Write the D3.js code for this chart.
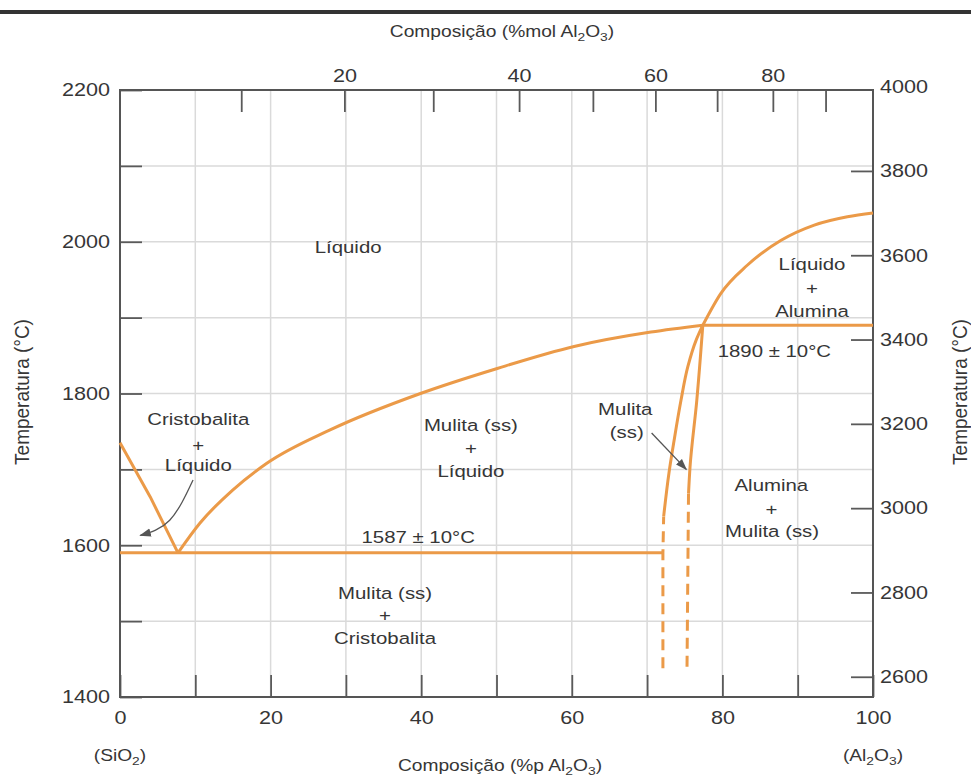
<!DOCTYPE html>
<html>
<head>
<meta charset="utf-8">
<script src="https://cdn.jsdelivr.net/npm/d3@7"></script>
<style>
  body { margin: 0; background: #fff; }
  svg text { font-family: "Liberation Sans", Arial, sans-serif; fill: #363636; }
</style>
</head>
<body>
<svg id="chart" width="971" height="778"></svg>
<script>
// phase boundaries, [wt% Al2O3, temperature °C]
var cristobaliteLiquidus = [[0, 1735], [4, 1664], [7.7, 1590]];
var mulliteLiquidus = [[7.7, 1590], [10.6, 1629], [15, 1673], [19.5, 1708], [27.9, 1752],
    [39.9, 1800], [50.1, 1833], [60.3, 1862], [70.5, 1881], [77.4, 1890]];
var aluminaLiquidus = [[77.4, 1890], [79.8, 1932], [83.3, 1969], [87.8, 2002],
    [92.2, 2022], [96.6, 2033], [100, 2038]];
var eutecticLine = [[0, 1590], [72.1, 1590]];
var peritecticLine = [[77.4, 1890], [100, 1890]];
var mulliteLeftSolid = [[72.2, 1638], [72.9, 1695], [73.6, 1739], [74.5, 1791],
    [75.4, 1835], [76.5, 1870], [77.4, 1890]];
var mulliteLeftDashed = [[72.1, 1438], [72.1, 1590], [72.2, 1638]];
var mulliteRightSolid = [[77.4, 1890], [76.6, 1791], [75.7, 1703], [75.5, 1668]];
var mulliteRightDashed = [[75.5, 1668], [75.3, 1438]];

// axes
var wtTicks = d3.range(0, 101, 10);
var tempTicks = d3.range(1400, 2201, 100);
var tempFTicks = [2600, 2800, 3000, 3200, 3400, 3600, 3800, 4000];
var molTicks = [10, 20, 30, 40, 50, 60, 70, 80, 90];
var molTickWt = [16.1, 29.8, 41.6, 53.0, 62.8, 71.1, 79.3, 86.7, 93.7];

// region labels, anchored at [wt%, °C]
var regionLabels = [
    ["Líquido", 30.3, 1985],
    ["Cristobalita", 10.4, 1758], ["+", 10.4, 1724], ["Líquido", 10.4, 1698],
    ["Mulita (ss)", 46.6, 1750], ["+", 46.6, 1720], ["Líquido", 46.6, 1690],
    ["1587 ± 10°C", 39.6, 1603],
    ["Mulita (ss)", 35.2, 1529], ["+", 35.2, 1500], ["Cristobalita", 35.2, 1470],
    ["Mulita", 67.1, 1772], ["(ss)", 67.3, 1741],
    ["Líquido", 91.9, 1963], ["+", 91.9, 1931], ["Alumina", 91.9, 1901],
    ["1890 ± 10°C", 86.9, 1848],
    ["Alumina", 86.5, 1671], ["+", 86.5, 1640], ["Mulita (ss)", 86.6, 1611]
];
var arrows = [
    [[9.7, 1686], [6.6, 1633], [2.7, 1613]],
    [[70.6, 1748], [75.2, 1700]]
];

var orange = "#eb9a48";
var stretch = 1.2;
var plotLeft = 120, plotRight = 873, plotTop = 90, plotBottom = 697;

var svg = d3.select("#chart");
var x = d3.scaleLinear().domain([0, 100]).range([plotLeft, plotRight]);
var y = d3.scaleLinear().domain([1400, 2200]).range([plotBottom, plotTop]);
var yF = d3.scaleLinear().domain([1400 * 1.8 + 32, 2200 * 1.8 + 32]).range([plotBottom, plotTop]);
var xMol = d3.scaleLinear().domain(molTicks).range(molTickWt.map(function(w) { return x(w); }));

// widen glyphs horizontally about their anchor
function widen(sel, sx) {
    sel.each(function() {
        var t = d3.select(this);
        var ax = +t.attr("x") || 0;
        t.attr("transform", "translate(" + ax * (1 - sx) + ",0) scale(" + sx + ",1)");
    });
}

// text with subscript parts
function richText(g, parts, size) {
    var t = g.append("text").style("font-size", size + "px");
    var shift = 0;
    parts.forEach(function(p) {
        var s = t.append("tspan").text(p[0]);
        if (p[1]) {
            s.attr("dy", 4 - shift).style("font-size", (size * 0.72) + "px");
            shift = 4;
        } else if (shift) {
            s.attr("dy", -shift);
            shift = 0;
        }
    });
    return t;
}

// screenshot frame bar
svg.append("rect").attr("x", 0).attr("y", 10).attr("width", 971).attr("height", 4).attr("fill", "#333");

// grid
svg.append("g").selectAll("line")
    .data(wtTicks.slice(1, -1))
    .join("line")
    .attr("x1", d => x(d)).attr("x2", d => x(d))
    .attr("y1", plotTop).attr("y2", plotBottom)
    .attr("stroke", "#dadada").attr("stroke-width", 1.5);
svg.append("g").selectAll("line")
    .data(tempTicks.slice(1, -1))
    .join("line")
    .attr("x1", plotLeft).attr("x2", plotRight)
    .attr("y1", d => y(d)).attr("y2", d => y(d))
    .attr("stroke", "#dadada").attr("stroke-width", 1.5);

// axes
var axisLeft = svg.append("g").attr("transform", "translate(" + plotLeft + ",0)")
    .call(d3.axisLeft(y).tickValues(tempTicks).tickSize(-22).tickPadding(10)
        .tickFormat(d => d % 200 === 0 ? d : ""));
var axisRight = svg.append("g").attr("transform", "translate(" + plotRight + ",0)")
    .call(d3.axisRight(yF).tickValues(tempFTicks).tickSize(-22).tickPadding(7)
        .tickFormat(d3.format("d")));
var axisBottom = svg.append("g").attr("transform", "translate(0," + plotBottom + ")")
    .call(d3.axisBottom(x).tickValues(wtTicks).tickSize(-22).tickPadding(14)
        .tickFormat(d => d % 20 === 0 ? d : ""));
var axisTop = svg.append("g").attr("transform", "translate(0," + plotTop + ")")
    .call(d3.axisTop(xMol).tickValues(molTicks).tickSize(-22).tickPadding(8)
        .tickFormat(d => d % 20 === 0 ? d : ""));

[axisLeft, axisRight, axisBottom, axisTop].forEach(function(a) {
    a.select(".domain").remove();
    a.selectAll(".tick line").attr("stroke", "#5a5a5a").attr("stroke-width", 1.8);
    a.selectAll(".tick text")
        .style("font-size", "18px")
        .style("font-family", "'Liberation Sans', Arial, sans-serif")
        .attr("fill", "#363636");
    widen(a.selectAll(".tick text"), stretch);
});
axisRight.selectAll(".tick").filter(d => d === 4000).select("line").remove();

// frame
svg.append("rect")
    .attr("x", plotLeft).attr("y", plotTop)
    .attr("width", plotRight - plotLeft).attr("height", plotBottom - plotTop)
    .attr("fill", "none").attr("stroke", "#555").attr("stroke-width", 2);

// phase boundaries
var line = d3.line().x(d => x(d[0])).y(d => y(d[1]));
var curveX = d3.line().x(d => x(d[0])).y(d => y(d[1])).curve(d3.curveMonotoneX);
var curveY = d3.line().x(d => x(d[0])).y(d => y(d[1])).curve(d3.curveMonotoneY);
var boundaries = svg.append("g").attr("fill", "none").attr("stroke", orange)
    .attr("stroke-width", 3).attr("stroke-linejoin", "round");
[cristobaliteLiquidus, eutecticLine, peritecticLine].forEach(function(d) {
    boundaries.append("path").attr("d", line(d));
});
[mulliteLiquidus, aluminaLiquidus].forEach(function(d) {
    boundaries.append("path").attr("d", curveX(d));
});
[mulliteLeftSolid, mulliteRightSolid].forEach(function(d) {
    boundaries.append("path").attr("d", curveY(d));
});
[mulliteLeftDashed, mulliteRightDashed].forEach(function(d) {
    boundaries.append("path").attr("d", line(d)).attr("stroke-dasharray", "11,7");
});

// arrows
svg.append("defs").append("marker")
    .attr("id", "head").attr("viewBox", "0 0 10 10")
    .attr("refX", 9).attr("refY", 5)
    .attr("markerWidth", 9).attr("markerHeight", 9)
    .attr("orient", "auto-start-reverse")
    .append("path").attr("d", "M0,1.5L10,5L0,8.5Z").attr("fill", "#555");
svg.append("g").selectAll("path")
    .data(arrows)
    .join("path")
    .attr("d", d => d.length > 2
        ? d3.line().x(p => x(p[0])).y(p => y(p[1])).curve(d3.curveNatural)(d)
        : line(d))
    .attr("fill", "none").attr("stroke", "#555").attr("stroke-width", 1.3)
    .attr("marker-end", "url(#head)");

// region labels
var labels = svg.append("g").selectAll("text")
    .data(regionLabels)
    .join("text")
    .attr("x", d => x(d[1]))
    .attr("y", d => y(d[2]))
    .attr("text-anchor", "middle")
    .style("font-size", "17px")
    .text(d => d[0]);
widen(labels, stretch);

// axis titles
var topTitle = richText(svg, [["Composição (%mol Al", false], ["2", true], ["O", false], ["3", true], [")", false]], 16)
    .attr("x", 502).attr("y", 37).attr("text-anchor", "middle");
widen(topTitle, stretch);
var bottomTitle = richText(svg, [["Composição (%p Al", false], ["2", true], ["O", false], ["3", true], [")", false]], 16)
    .attr("x", 500).attr("y", 771).attr("text-anchor", "middle");
widen(bottomTitle, stretch);
var silica = richText(svg, [["(SiO", false], ["2", true], [")", false]], 16)
    .attr("x", x(0)).attr("y", 761).attr("text-anchor", "middle");
widen(silica, stretch);
var alumina = richText(svg, [["(Al", false], ["2", true], ["O", false], ["3", true], [")", false]], 16)
    .attr("x", x(100)).attr("y", 761).attr("text-anchor", "middle");
widen(alumina, stretch);

[[22, 392], [960, 392]].forEach(function(p) {
    svg.append("text")
        .attr("transform", "translate(" + p[0] + "," + p[1] + ") rotate(-90) scale(1,1.05)")
        .attr("text-anchor", "middle")
        .attr("dy", "0.35em")
        .style("font-size", "19px")
        .text("Temperatura (°C)");
});
</script>
</body>
</html>
